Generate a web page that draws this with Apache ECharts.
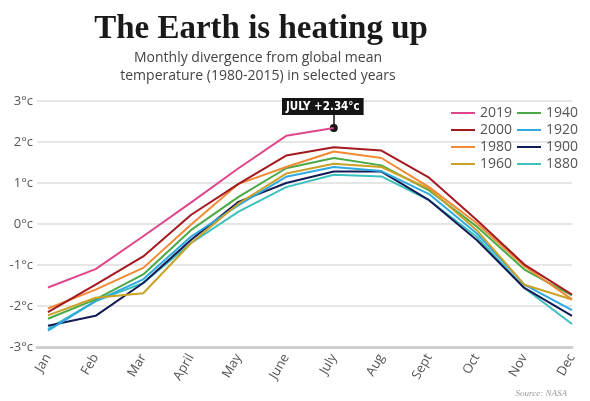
<!DOCTYPE html>
<html>
<head>
<meta charset="utf-8">
<script src="https://cdn.jsdelivr.net/npm/echarts@6/dist/echarts.min.js"></script>
<style>
  html, body { margin: 0; padding: 0; background: #fff; }
  #chart { width: 590px; height: 401px; }
</style>
</head>
<body>
<div id="chart"></div>
<script>
  // months along the x axis
  var months = ['Jan', 'Feb', 'Mar', 'April', 'May', 'June', 'July', 'Aug', 'Sept', 'Oct', 'Nov', 'Dec'];
  var yTicks = [-3, -2, -1, 0, 1, 2, 3];

  // divergence from mean, degrees C (2019 stops at July)
  var y2019 = [-1.55, -1.10, -0.30, 0.52, 1.36, 2.15, 2.34];
  var y2000 = [-2.15, -1.48, -0.79, 0.22, 0.98, 1.67, 1.87, 1.79, 1.13, 0.10, -0.99, -1.72];
  var y1980 = [-2.06, -1.60, -1.07, -0.02, 0.98, 1.39, 1.77, 1.61, 0.90, 0.02, -1.03, -1.84];
  var y1960 = [-2.23, -1.80, -1.69, -0.47, 0.50, 1.23, 1.47, 1.39, 0.86, -0.15, -1.48, -1.84];
  var y1940 = [-2.31, -1.84, -1.23, -0.15, 0.66, 1.36, 1.61, 1.43, 0.82, -0.06, -1.11, -1.74];
  var y1920 = [-2.60, -1.88, -1.35, -0.31, 0.46, 1.15, 1.39, 1.29, 0.73, -0.23, -1.48, -2.10];
  var y1900 = [-2.48, -2.24, -1.44, -0.39, 0.54, 1.00, 1.28, 1.28, 0.58, -0.39, -1.56, -2.24];
  var y1880 = [-2.56, -1.88, -1.44, -0.47, 0.30, 0.90, 1.20, 1.16, 0.58, -0.31, -1.56, -2.44];

  var years = ['2019', '2000', '1980', '1960', '1940', '1920', '1900', '1880'];
  var values = [y2019, y2000, y1980, y1960, y1940, y1920, y1900, y1880];
  var colors = ['#e0478b', '#a3191f', '#f28a35', '#c9a227', '#4caa46', '#2fa9e0', '#121b55', '#3cc0be'];

  var chart = echarts.init(document.getElementById('chart'));

  function pairs(arr) {
    return arr.map(function (v, i) { return [i, v]; });
  }

  var series = years.map(function (y, k) {
    var s = {
      name: y,
      type: 'line',
      data: pairs(values[k]),
      symbol: 'none',
      lineStyle: { width: 2, color: colors[k] },
      itemStyle: { color: colors[k] },
      z: 10 - k,
      emphasis: { disabled: true }
    };
    if (y === '2019') {
      var last = values[k].length - 1;
      s.markPoint = {
        symbol: 'circle',
        symbolSize: 8,
        itemStyle: { color: '#151515' },
        label: {
          show: true,
          position: 'top',
          distance: 9,
          offset: [-11, 0],
          formatter: 'JULY +2.34°c',
          color: '#fff',
          backgroundColor: '#151515',
          padding: [3, 4, 2, 4],
          fontFamily: 'DejaVu Sans Condensed',
          fontWeight: 'bold',
          fontSize: 11.5
        },
        data: [{ coord: [last, values[k][last]] }]
      };
      s.markLine = {
        silent: true,
        symbol: ['none', 'none'],
        lineStyle: { color: '#151515', width: 1.5, type: 'solid' },
        label: { show: false },
        data: [[{ coord: [last, values[k][last]] }, { coord: [last, 2.7] }]]
      };
    }
    return s;
  });

  var legendText = { fontFamily: 'Open Sans', fontSize: 14, color: '#555', lineHeight: 14 };

  var option = {
    backgroundColor: '#fff',
    animation: false,
    title: [
      {
        text: 'The Earth is heating up',
        left: 256, top: 8, textAlign: 'center',
        textStyle: { fontFamily: 'Liberation Serif', fontWeight: 'bold', fontSize: 33, color: '#1a1a1a' }
      },
      {
        text: 'Monthly divergence from global mean\ntemperature (1980-2015) in selected years',
        left: 253, top: 44, textAlign: 'center',
        textStyle: { fontFamily: 'Open Sans', fontWeight: 'normal', fontSize: 14, lineHeight: 18, color: '#444' }
      },
      {
        text: 'Source: NASA',
        right: 18, top: 384,
        textStyle: { fontFamily: 'Liberation Serif', fontStyle: 'italic', fontWeight: 'normal', fontSize: 9, color: '#999' }
      }
    ],
    legend: [
      {
        data: years.slice(0, 4), orient: 'vertical', left: 446, top: 101, icon: 'rect',
        itemWidth: 24, itemHeight: 2, itemGap: 3, textStyle: legendText
      },
      {
        data: years.slice(4), orient: 'vertical', left: 512, top: 101, icon: 'rect',
        itemWidth: 24, itemHeight: 2, itemGap: 3, textStyle: legendText
      }
    ],
    grid: { left: 37, right: 18, top: 101, bottom: 54 },
    xAxis: {
      type: 'value',
      min: -0.23,
      max: 11,
      splitLine: { show: false },
      axisTick: { show: false },
      axisLine: { show: true, onZero: false, lineStyle: { color: '#cfcfcf', width: 3 } },
      axisLabel: {
        customValues: months.map(function (m, i) { return i; }),
        formatter: function (v) { return months[Math.round(v)]; },
        rotate: 60,
        margin: 8,
        fontFamily: 'Open Sans',
        fontSize: 13,
        color: '#555'
      }
    },
    yAxis: {
      type: 'value',
      min: yTicks[0],
      max: yTicks[yTicks.length - 1],
      interval: 1,
      axisLine: { show: false },
      axisTick: { show: false },
      splitLine: { lineStyle: { color: '#dedede', width: 1.5 } },
      axisLabel: {
        formatter: function (v) { return v + '°c'; },
        margin: 4,
        fontFamily: 'Open Sans',
        fontSize: 13,
        color: '#555'
      }
    },
    series: series
  };

  chart.setOption(option);
</script>
</body>
</html>
